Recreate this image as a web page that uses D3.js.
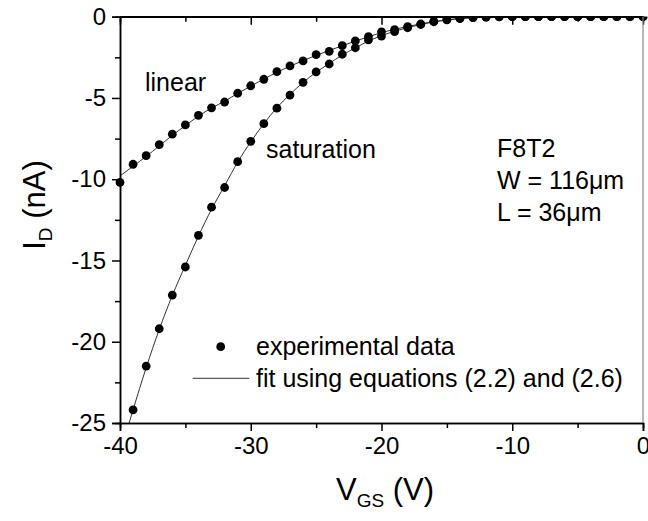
<!DOCTYPE html>
<html>
<head>
<meta charset="utf-8">
<script src="https://cdn.jsdelivr.net/npm/d3@7"></script>
<style>
  body { margin: 0; background: #fff; }
  svg { display: block; font-family: "Liberation Sans", Arial, sans-serif; }
</style>
</head>
<body>
<svg id="drawing_region"></svg>
<script>
// gate voltage (V)
const vgs = [-40, -39, -38, -37, -36, -35, -34, -33, -32, -31, -30, -29, -28, -27, -26, -25, -24, -23, -22, -21,
             -20, -19, -18, -17, -16, -15, -14, -13, -12, -11, -10, -9, -8, -7, -6, -5, -4, -3, -2, -1, 0];
// drain current (nA), linear regime
const linearData = [-10.2, -9.08, -8.55, -7.87, -7.23, -6.66, -6.07, -5.61, -5.25, -4.71, -4.25, -3.85, -3.38, -3.03, -2.72, -2.33, -2.13, -1.78, -1.49, -1.23,
                    -0.94, -0.80, -0.61, -0.45, -0.28, -0.17, -0.10, -0.05, -0.02, 0, 0, 0, 0, 0, 0, 0, 0, 0, 0, 0, 0];
// saturation regime, first point (-40 V) is off the chart
const satData = [null, -24.19, -21.5, -19.2, -17.13, -15.4, -13.45, -11.72, -10.51, -8.92, -7.67, -6.58, -5.63, -4.82, -4.04, -3.40, -2.91, -2.31, -1.91, -1.43,
                 -1.19, -0.92, -0.68, -0.48, -0.31, -0.19, -0.11, -0.06, -0.03, -0.01, 0, 0, 0, 0, 0, 0, 0, 0, 0, 0, 0];
// fitted curves
const linearFit = [-9.8, -9.2, -8.6, -7.95, -7.3, -6.7, -6.12, -5.62, -5.2, -4.72, -4.27, -3.84, -3.42, -3.05, -2.7, -2.38, -2.08, -1.79, -1.5, -1.24,
                   -0.98, -0.78, -0.6, -0.44, -0.3, -0.19, -0.11, -0.06, -0.03, -0.01, 0, 0, 0, 0, 0, 0, 0, 0, 0, 0, 0];
const satFit = [-26.9, -24.19, -21.6, -19.25, -17.15, -15.3, -13.5, -11.85, -10.4, -8.95, -7.7, -6.58, -5.6, -4.78, -4.05, -3.42, -2.88, -2.36, -1.92, -1.5,
                -1.17, -0.9, -0.67, -0.48, -0.32, -0.2, -0.11, -0.06, -0.03, -0.01, 0, 0, 0, 0, 0, 0, 0, 0, 0, 0, 0];

const xTicks = [-40, -30, -20, -10, 0];
const yTicks = [0, -5, -10, -15, -20, -25];

const width = 648, height = 521;
const margin = {left: 120, top: 16.7};
const w = 643 - margin.left, h = 423 - margin.top;

const svg = d3.select('#drawing_region')
    .attr('width', width)
    .attr('height', height);

const chart = svg.append('g')
    .attr('transform', `translate(${margin.left}, ${margin.top})`);

const x = d3.scaleLinear().domain([-40, 0]).range([0, w]);
const y = d3.scaleLinear().domain([-25, 0]).range([h, 0]);

svg.append('defs').append('clipPath').attr('id', 'plotclip')
    .append('rect').attr('width', w).attr('height', h);
svg.select('defs').append('clipPath').attr('id', 'dotclip')
    .append('rect').attr('x', -10).attr('y', 0).attr('width', w + 20).attr('height', h);

// fit lines
const line = d3.line()
    .defined(d => d[1] !== null)
    .x(d => x(d[0]))
    .y(d => y(d[1]))
    .curve(d3.curveMonotoneX);

const lines = chart.append('g').attr('clip-path', 'url(#plotclip)');
[linearFit, satFit].forEach(fit => {
  lines.append('path')
      .attr('d', line(vgs.map((v, i) => [v, fit[i]])))
      .attr('fill', 'none')
      .attr('stroke', '#333')
      .attr('stroke-width', 1);
});

// data points
const dots = chart.append('g').attr('clip-path', 'url(#dotclip)');
[linearData, satData].forEach(series => {
  dots.selectAll(null)
      .data(vgs.map((v, i) => [v, series[i]]).filter(d => d[1] !== null))
      .enter()
      .append('circle')
      .attr('cx', d => x(d[0]))
      .attr('cy', d => y(d[1]))
      .attr('r', 4.4)
      .attr('fill', 'black');
});

// axes (plain hyphen minus like the original)
const fmt = d => String(d);
const xAxis = chart.append('g')
    .attr('transform', `translate(0, ${h})`)
    .call(d3.axisBottom(x).tickValues(xTicks).tickSize(8).tickPadding(6).tickFormat(fmt));
xAxis.append('g').call(d3.axisBottom(x).tickValues([-35, -25, -15, -5]).tickSize(5).tickFormat(''));

const yAxis = chart.append('g')
    .call(d3.axisLeft(y).tickValues(yTicks).tickSize(8).tickPadding(6).tickFormat(fmt));
yAxis.append('g').call(d3.axisLeft(y).tickValues([-2.5, -7.5, -12.5, -17.5, -22.5]).tickSize(5).tickFormat(''));

const topAxis = chart.append('g')
    .call(d3.axisBottom(x).tickValues(xTicks).tickSize(8).tickFormat(''));
topAxis.append('g').call(d3.axisBottom(x).tickValues([-35, -25, -15, -5]).tickSize(5).tickFormat(''));
topAxis.select('.domain').remove();
chart.append('line')
    .attr('x1', 0).attr('x2', w).attr('y1', 0).attr('y2', 0)
    .attr('stroke', 'black').attr('stroke-width', 1.5);
chart.append('line')
    .attr('x1', w).attr('x2', w).attr('y1', 0).attr('y2', h)
    .attr('stroke', '#888').attr('stroke-width', 1.2);

chart.selectAll('.domain').attr('stroke-width', 1.5);
chart.selectAll('.tick line').attr('stroke-width', 1.5);
chart.selectAll('.tick text').style('font-size', '24px').attr('fill', 'black');

// axis titles
const xt = svg.append('text')
    .attr('x', 385).attr('y', 500)
    .attr('text-anchor', 'middle')
    .style('font-size', '31px');
xt.append('tspan').text('V');
xt.append('tspan').attr('dy', 7).style('font-size', '19px').text('GS');
xt.append('tspan').attr('dy', -7).text(' (V)');

const yt = svg.append('text')
    .attr('transform', 'translate(45, 205) rotate(-90)')
    .attr('text-anchor', 'middle')
    .style('font-size', '31px');
yt.append('tspan').text('I');
yt.append('tspan').attr('dy', 7).style('font-size', '19px').text('D');
yt.append('tspan').attr('dy', -7).text(' (nA)');

// annotations
const ann = svg.append('g').style('font-size', '25px');
ann.append('text').attr('x', 145).attr('y', 90.5).text('linear');
ann.append('text').attr('x', 266).attr('y', 158).text('saturation');
ann.append('text').attr('x', 497).attr('y', 157).text('F8T2');
ann.append('text').attr('x', 497).attr('y', 189).text('W = 116\u03bcm');
ann.append('text').attr('x', 497).attr('y', 221).text('L = 36\u03bcm');

// legend
const legend = svg.append('g').style('font-size', '25px');
legend.append('circle').attr('cx', 220.7).attr('cy', 346.7).attr('r', 4.4).attr('fill', 'black');
legend.append('text').attr('x', 256).attr('y', 355).text('experimental data');
legend.append('line').attr('x1', 192.7).attr('x2', 249.3).attr('y1', 378.3).attr('y2', 378.3)
    .attr('stroke', '#333').attr('stroke-width', 1);
legend.append('text').attr('x', 256).attr('y', 387).text('fit using equations (2.2) and (2.6)');
</script>
</body>
</html>
